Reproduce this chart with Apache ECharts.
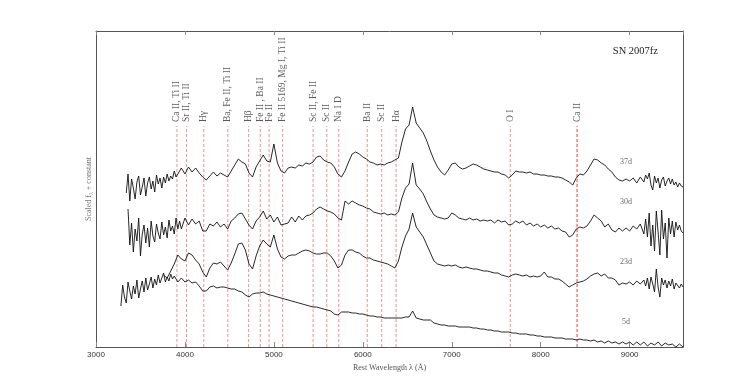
<!DOCTYPE html>
<html>
<head>
<meta charset="utf-8">
<script src="https://cdn.jsdelivr.net/npm/echarts@6/dist/echarts.min.js"></script>
<style>
  html, body { margin: 0; padding: 0; background: #fff; }
  #main { width: 747px; height: 392px; }
</style>
</head>
<body>
<div id="main"></div>
<script>
// SN 2007fz spectra, flux scaled + offset per epoch
// noisy ends sampled every 20 A, the rest every 40 A

var NOISE_STEP = 20;
var WAVE_STEP = 40;

// 37d
var blue37Start = 3340;
var blue37 = [15.4, 17.3, 14.6, 16.8, 15.9, 14.8, 16.5, 17.1, 15.2, 16.0,
  16.9, 15.1, 16.4, 17.0, 15.8, 16.6, 15.5, 17.2, 16.3, 16.9,
  15.9, 17.0, 16.4, 17.3, 16.6, 17.1, 16.8, 17.6, 17.0];
var main37Start = 3920;
var main37 = [
  17.0, 17.9, 17.3, 18.0, 17.5, 17.9,
  17.4, 17.0, 16.7, 17.1, 17.5, 17.1, 17.4, 17.2, 17.0, 17.6,
  18.2, 18.8, 18.5, 18.3, 17.4, 17.0, 18.0, 18.6, 19.2, 18.6,
  18.5, 20.3, 18.4, 17.6, 17.4, 17.9, 18.0, 17.9, 18.2, 18.1,
  18.4, 18.3, 18.5, 19.0, 19.1, 18.7, 18.5, 18.4, 18.0, 17.3,
  17.0, 17.6, 18.5, 19.3, 19.5, 19.3, 19.0, 18.8, 18.5, 18.4,
  18.2, 18.3, 18.2, 18.4, 18.5, 18.7, 18.9, 20.5, 21.8, 22.2,
  24.0, 22.4, 21.9, 21.4, 20.6, 19.6, 18.7, 18.0, 17.5, 17.2,
  17.7, 18.3, 18.4, 18.0, 17.8, 17.9, 18.1, 18.3, 18.2, 18.0,
  17.8, 17.7, 17.6, 17.5, 17.5, 17.3, 17.2, 16.9, 17.2, 17.6,
  17.5, 17.5, 17.4, 17.5, 17.3, 17.3, 17.2, 17.2, 17.1, 17.1,
  17.0, 17.0, 16.9, 16.7, 16.5, 16.2, 16.9, 17.3, 17.2, 17.6,
  18.2, 18.8, 18.7, 18.4, 18.2, 17.8, 17.5, 17.0, 16.7, 16.6,
  16.8, 16.6, 16.9, 16.4, 17.0
];
var red37Start = 9160;
var red37 = [16.5, 17.2, 16.8, 17.4, 16.2, 15.7, 17.1, 16.4, 16.9, 15.9,
  16.7, 17.0, 16.1, 16.6, 16.9, 16.3, 16.8, 16.2, 16.5, 16.0,
  16.4, 16.1, 16.0];

// 30d
var blue30Start = 3360;
var blue30 = [13.8, 10.2, 12.4, 9.5, 11.8, 10.6, 12.9, 9.1, 11.3, 12.2,
  10.4, 11.9, 10.0, 12.6, 11.1, 10.5, 12.3, 11.4, 10.8, 12.5,
  11.2, 12.0, 10.9, 12.7, 11.6, 12.1, 11.3, 12.9, 11.8, 12.6];
var main30Start = 3960;
var main30 = [
  11.8, 12.9, 12.2, 12.8, 12.3,
  12.6, 11.6, 11.6, 12.3, 12.1, 12.5, 12.0, 12.3, 11.8, 12.6,
  12.9, 13.3, 13.4, 12.8, 12.2, 11.8, 12.6, 13.0, 13.6, 12.8,
  13.2, 12.5, 13.0, 12.2, 12.3, 12.4, 13.0, 12.5, 13.1, 12.7,
  13.1, 13.2, 13.4, 13.8, 14.0, 13.8, 13.6, 13.5, 13.3, 12.9,
  12.7, 14.6, 14.3, 14.6, 14.4, 14.2, 14.1, 13.9, 13.8, 13.5,
  13.4, 13.3, 13.4, 13.2, 13.3, 13.2, 13.5, 14.9, 15.9, 16.3,
  18.4, 16.2, 15.8, 15.3, 14.5, 13.8, 13.2, 13.0, 12.9, 12.8,
  12.9, 13.4, 13.2, 12.9, 12.8, 12.7, 12.9, 12.7, 12.8, 12.6,
  12.7, 12.6, 12.7, 12.4, 12.7, 12.5, 12.6, 12.2, 12.3, 12.6,
  12.4, 12.6, 12.2, 12.4, 12.1, 12.3, 12.0, 12.2, 11.9, 12.1,
  11.8, 11.9, 11.6, 11.5, 11.0, 11.2, 11.8, 12.0, 11.9, 12.1,
  12.6, 13.2, 12.9, 12.6, 12.0, 12.3, 11.7, 11.5, 11.9, 11.6,
  11.9, 11.6, 12.1, 11.8, 12.3
];
var red30Start = 9160;
var red30 = [11.3, 12.8, 11.0, 13.4, 10.1, 12.2, 9.6, 13.6, 11.5, 9.2,
  13.7, 10.8, 12.4, 8.9, 12.9, 11.3, 12.6, 11.0, 12.5, 11.7,
  12.2, 11.6, 11.4];

// 23d
var main23Start = 3760;
var main23 = [
  7.2, 6.9, 7.6, 8.3, 9.2, 8.8, 8.6, 9.4, 9.2, 8.7,
  8.3, 7.5, 7.0, 7.9, 8.4, 8.3, 8.5, 8.1, 7.7, 8.4,
  9.3, 10.3, 10.4, 9.7, 8.3, 7.8, 9.1, 10.1, 10.7, 10.3,
  10.0, 11.2, 9.8, 9.0, 8.8, 9.1, 9.2, 9.2, 9.4, 9.6,
  9.7, 9.6, 9.4, 9.3, 9.3, 9.4, 9.4, 9.1, 8.6, 7.9,
  8.2, 9.2, 9.7, 9.7, 9.5, 9.4, 9.1, 8.9, 8.9, 8.7,
  8.6, 8.5, 8.4, 8.3, 8.1, 7.9, 8.6, 10.0, 11.1, 11.8,
  13.4, 12.0, 11.5, 11.0, 10.2, 9.4, 8.6, 8.3, 8.2, 8.1,
  8.2, 8.1, 8.2, 8.0, 7.9, 8.0, 7.9, 7.8, 7.8, 7.7,
  7.6, 7.6, 7.5, 7.4, 7.4, 7.2, 7.1, 7.0, 7.2, 7.3,
  7.2, 7.1, 7.2, 7.0, 7.1, 7.0, 7.1, 7.5, 7.0, 7.0,
  6.8, 6.8, 6.6, 6.3, 6.0, 6.2, 6.4, 6.5, 6.6, 6.8,
  7.1, 7.3, 7.4, 7.1, 7.3, 6.9, 6.9, 6.7, 6.2, 6.4,
  6.3, 6.5, 6.2, 6.6, 6.3
];
var red23Start = 9160;
var red23 = [6.7, 6.1, 6.9, 5.8, 7.0, 6.3, 5.5, 7.8, 6.0, 5.0,
  6.9, 6.2, 6.7, 5.9, 6.6, 6.1, 6.8, 5.8, 6.4, 6.6,
  5.9, 6.3, 6.0];

// 5d
var blue5Start = 3280;
var blue5 = [4.1, 6.2, 5.0, 4.4, 6.5, 5.6, 4.8, 6.1, 5.3, 6.7,
  4.9, 5.8, 6.6, 5.5, 6.9, 5.7, 6.3, 7.0, 5.9, 6.8,
  6.2, 7.2, 6.4, 6.9, 7.4, 6.5, 7.0, 6.6, 7.3, 6.8];
var main5Start = 3880;
var main5 = [
  7.1, 6.5, 6.9, 6.5, 6.7,
  6.4, 6.5, 6.1, 5.6, 5.6, 6.0, 6.1, 5.9, 6.0, 6.0,
  5.9, 5.8, 5.8, 5.6, 5.5, 5.2, 5.0, 5.3, 5.4, 5.4,
  5.5, 5.3, 5.2, 5.1, 5.0, 4.9, 4.8, 4.7, 4.6, 4.5,
  4.4, 4.3, 4.2, 4.1, 4.0, 4.0, 3.9, 3.8, 3.7, 3.6,
  3.3, 3.2, 3.5, 3.5, 3.5, 3.4, 3.4, 3.3, 3.3, 3.2,
  3.1, 3.1, 3.0, 3.0, 2.9, 2.9, 2.9, 2.9, 2.9, 2.9,
  3.0, 3.0, 3.6, 2.9, 2.8, 2.7, 2.7, 2.7, 2.4, 2.3,
  2.2, 2.2, 2.1, 2.1, 2.1, 2.0, 2.0, 2.0, 2.0, 1.9,
  1.9, 1.8, 1.8, 1.7, 1.7, 1.6, 1.6, 1.5, 1.5, 1.5,
  1.4, 1.4, 1.3, 1.3, 1.3, 1.2, 1.2, 1.1, 1.1, 1.0,
  1.0, 1.0, 0.9, 0.9, 0.9, 0.8, 0.8, 0.8, 0.7, 0.8,
  0.7, 0.7, 0.6, 0.7, 0.5, 0.6, 0.4, 0.6, 0.4, 0.5,
  0.3, 0.5, 0.3, 0.5, 0.2, 0.5, 0.2, 0.5, 0.1, 0.4,
  0.2, 0.5, 0.1, 0.4, 0.2, 0.3, 0.0, 0.3, 0.0
];

// line identifications
var lineWaves = [3910, 4018, 4212, 4482, 4716, 4847, 4946, 5099,
                 5441, 5595, 5730, 6050, 6212, 6374, 7658, 8410];
var lineNames = ['Ca II, Ti II', 'Sr II, Ti II', 'H\u03b3', 'Ba, Fe II, Ti II',
                 'H\u03b2', 'Fe II , Ba II', 'Fe II', 'Fe II 5169, Mg I, Ti II',
                 'Sc II, Fe II', 'Sc II', 'Na I D', 'Ba II', 'Sc II', 'H\u03b1',
                 'O I', 'Ca II'];
var LINE_TOP = 22.1;

var epochNames = ['37d', '30d', '23d', '5d'];
var epochLabelY = [18.5, 14.5, 8.5, 2.5];
var EPOCH_LABEL_X = 8960;

function piece(start, step, flux) {
  return flux.map(function (f, i) { return [start + i * step, f]; });
}

var chartDom = document.getElementById('main');
var myChart = echarts.init(chartDom);
var option;

var serif = 'Liberation Serif';
var frame = { color: '#555', width: 1 };

function spectrum(name, pieces) {
  var data = [];
  pieces.forEach(function (p) { data = data.concat(p); });
  return {
    name: name,
    type: 'line',
    data: data,
    showSymbol: false,
    symbol: 'none',
    lineStyle: { color: '#111', width: 0.9 },
    z: 3
  };
}

// one dashed vertical per identified line
var lineSeries = lineWaves.map(function (w, i) {
  return {
    name: 'id-' + i,
    type: 'line',
    data: [[w, 0], [w, LINE_TOP]],
    showSymbol: false,
    symbol: 'none',
    silent: true,
    lineStyle: {
      type: [3, 2],
      color: '#f47a7a',
      opacity: 0.85,
      width: i === lineWaves.length - 1 ? 1.8 : 1
    },
    z: 1
  };
});

option = {
  animation: false,
  title: {
    text: 'SN 2007fz',
    right: 84,
    top: 41,
    textStyle: { fontFamily: serif, fontSize: 10.5, fontWeight: 'normal', color: '#222' }
  },
  grid: { left: 96, right: 64, top: 31, bottom: 45 },
  xAxis: [
    {
      type: 'value',
      min: 3000,
      max: 9600,
      interval: 1000,
      name: 'Rest Wavelength \u03bb (\u00c5)',
      nameLocation: 'middle',
      nameGap: 12,
      nameTextStyle: { fontFamily: serif, fontSize: 8, color: '#555' },
      axisLine: { onZero: false, lineStyle: frame },
      axisTick: { inside: true, length: 5, lineStyle: { color: '#888' } },
      axisLabel: {
        fontFamily: 'Liberation Sans', fontSize: 8, color: '#333', margin: 4,
        showMaxLabel: false,
        formatter: function (v) { return String(v); }
      },
      splitLine: { show: false }
    },
    {
      type: 'value',
      position: 'top',
      min: 3000,
      max: 9600,
      interval: 1000,
      axisLine: { show: true, onZero: false, lineStyle: frame },
      axisTick: { inside: true, length: 4, lineStyle: { color: '#888' } },
      axisLabel: { show: false },
      splitLine: { show: false }
    }
  ],
  yAxis: [
    {
      type: 'value',
      min: 0,
      max: 31.6,
      name: 'Scaled f{sub|\u03bb} + constant',
      nameLocation: 'middle',
      nameGap: 2,
      nameRotate: 90,
      nameTextStyle: {
        fontFamily: serif, fontSize: 8, color: '#777',
        rich: { sub: { fontFamily: serif, fontSize: 6, color: '#777', padding: [4, 0, 0, 0] } }
      },
      axisLine: { show: true, onZero: false, lineStyle: frame },
      axisTick: { show: false },
      axisLabel: { show: false },
      splitLine: { show: false }
    },
    {
      type: 'value',
      position: 'right',
      min: 0,
      max: 31.6,
      axisLine: { show: true, onZero: false, lineStyle: frame },
      axisTick: { show: false },
      axisLabel: { show: false },
      splitLine: { show: false }
    }
  ],
  series: lineSeries.concat([
    {
      name: 'line labels',
      type: 'scatter',
      symbolSize: 0,
      silent: true,
      data: lineWaves.map(function (w, i) {
        return { name: lineNames[i], value: [w, LINE_TOP + 0.4] };
      }),
      label: {
        show: true,
        formatter: '{b}',
        position: 'inside',
        rotate: 90,
        align: 'left',
        verticalAlign: 'middle',
        fontFamily: serif,
        fontSize: 9.5,
        color: '#333'
      },
      z: 2
    },
    spectrum('37d', [piece(blue37Start, NOISE_STEP, blue37), piece(main37Start, WAVE_STEP, main37), piece(red37Start, NOISE_STEP, red37)]),
    spectrum('30d', [piece(blue30Start, NOISE_STEP, blue30), piece(main30Start, WAVE_STEP, main30), piece(red30Start, NOISE_STEP, red30)]),
    spectrum('23d', [piece(main23Start, WAVE_STEP, main23), piece(red23Start, NOISE_STEP, red23)]),
    spectrum('5d', [piece(blue5Start, NOISE_STEP, blue5), piece(main5Start, WAVE_STEP, main5)]),
    {
      name: 'epochs',
      type: 'scatter',
      symbolSize: 0,
      silent: true,
      data: epochNames.map(function (n, i) {
        return { name: n, value: [EPOCH_LABEL_X, epochLabelY[i]] };
      }),
      label: {
        show: true,
        formatter: '{b}',
        position: 'inside',
        fontFamily: serif,
        fontSize: 8,
        color: '#444'
      }
    }
  ])
};

option && myChart.setOption(option);
</script>
</body>
</html>
